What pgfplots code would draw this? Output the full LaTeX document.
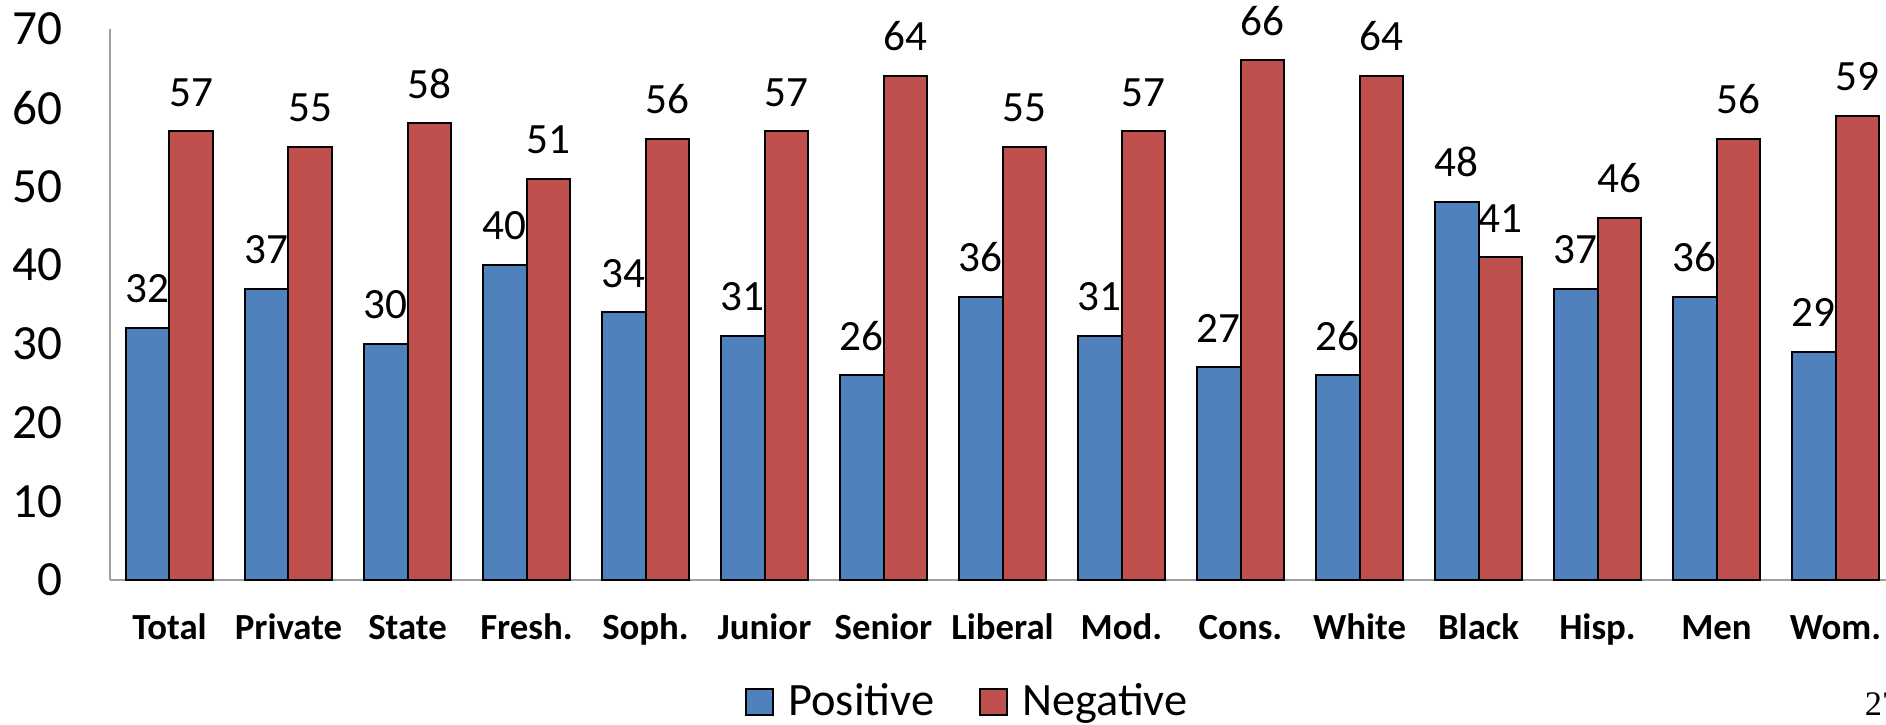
\documentclass[border=0pt]{standalone}
\usepackage{pgfplots}
\pgfplotsset{compat=1.18}
\usepackage{fontspec}
\setmainfont{Carlito}
\newfontfamily\timesfont{Liberation Serif}
\definecolor{posblue}{HTML}{4F81BD}
\definecolor{negred}{HTML}{C0504D}
\definecolor{axgray}{RGB}{160,160,160}
\begin{document}
\begin{tikzpicture}
\pgfplotsset{
  mylegimg/.style={legend image code/.code={\draw[##1,draw=black,line width=0.5pt] (0pt,-3.25pt) rectangle (6.75pt,3.25pt);}}
}
\begin{axis}[
  at={(27.5pt,36.25pt)}, anchor=south west,
  scale only axis,
  width=446.25pt, height=137.75pt,
  xmin=-0.5, xmax=14.5, ymin=0, ymax=70,
  ybar=0pt, bar width=10.875pt,
  axis x line*=bottom, axis y line*=left,
  axis line style={axgray, line width=0.6pt, -},
  xtick={0,...,14},
  xticklabels={Total,Private,State,Fresh.,Soph.,Junior,Senior,Liberal,Mod.,Cons.,White,Black,Hisp.,Men,Wom.},
  ytick={0,10,...,70},
  major tick length=0pt,
  /pgf/number format/assume math mode=true,
  xticklabel style={font=\fontsize{9.2}{10}\selectfont\bfseries, anchor=base, inner sep=0pt, yshift=-14.8pt},
  yticklabel style={font=\fontsize{12.3}{14}\selectfont, anchor=east, inner sep=0pt, xshift=-11.75pt},
  nodes near coords,
  every node near coord/.append style={font=\fontsize{10.8}{12}\selectfont, anchor=south, inner sep=0pt, yshift=6pt, black},
  legend columns=2,
  legend style={draw=none, at={(0.4798,-0.2214)}, anchor=center, font=\fontsize{11.6}{13}\selectfont,
    /tikz/every even column/.append style={column sep=11.25pt},
    /tikz/every odd column/.append style={column sep=3.5pt},
    nodes={inner sep=0pt}},
  clip=false,
]
\addplot[fill=posblue, draw=black, line width=0.5pt, mylegimg] coordinates {
(0,32) (1,37) (2,30) (3,40) (4,34) (5,31) (6,26) (7,36) (8,31) (9,27) (10,26) (11,48) (12,37) (13,36) (14,29)};
\addplot[fill=negred, draw=black, line width=0.5pt, mylegimg] coordinates {
(0,57) (1,55) (2,58) (3,51) (4,56) (5,57) (6,64) (7,55) (8,57) (9,66) (10,64) (11,41) (12,46) (13,56) (14,59)};
\legend{Positive,Negative}
\end{axis}
\node[anchor=base west, inner sep=0pt, font=\timesfont\fontsize{8.6}{10}\selectfont] at (466pt,2.25pt) {27};
\pgfresetboundingbox
\path[use as bounding box] (0,0) rectangle (471.5pt,181.25pt);
\end{tikzpicture}
\end{document}
